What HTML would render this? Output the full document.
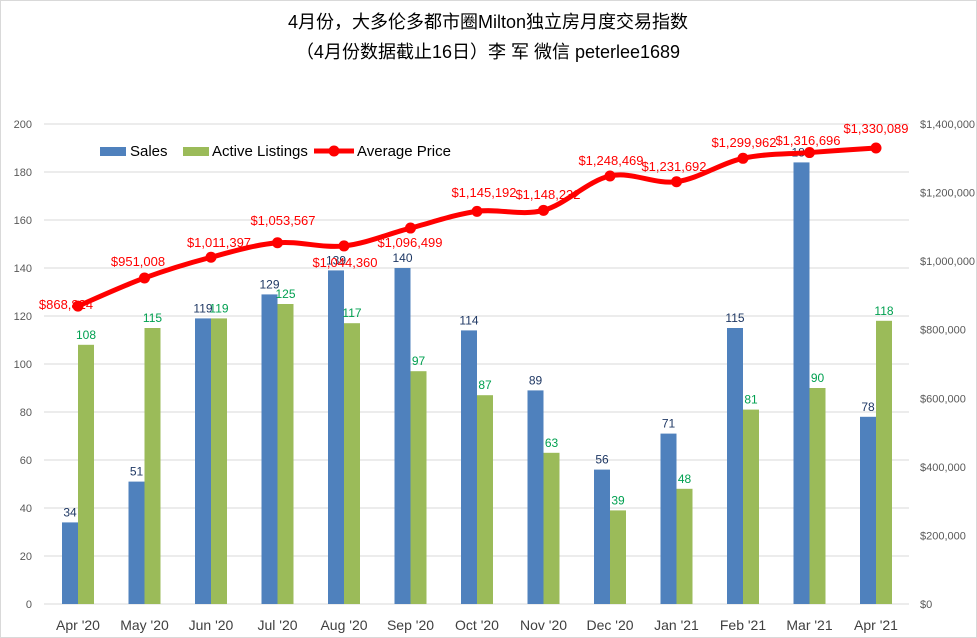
<!DOCTYPE html>
<html><head><meta charset="utf-8"><style>
body{margin:0;background:#fff}
svg{display:block;font-family:"Liberation Sans","Noto Sans CJK SC",sans-serif}
</style></head><body>
<svg id="c" width="977" height="638" viewBox="0 0 977 638" xmlns="http://www.w3.org/2000/svg">
<rect x="0.5" y="0.5" width="976" height="637" fill="#fff" stroke="#d9d9d9"/>
<text x="488" y="28" text-anchor="middle" font-size="18" fill="#000">4月份，大多伦多都市圈Milton独立房月度交易指数</text>
<text x="488" y="58" text-anchor="middle" font-size="18" fill="#000">（4月份数据截止16日）李 军  微信  peterlee1689</text>
<g id="g"></g>
</svg>
<script>
var g=document.getElementById('g'),h='';
var base=604,top0=124;
for(var i=0;i<=10;i++){var y=base-i*48;
h+='<line x1="44" x2="909" y1="'+y+'" y2="'+y+'" stroke="#d9d9d9" stroke-width="1"/>';
h+='<text x="32" y="'+(y+4)+'" text-anchor="end" font-size="11" fill="#595959">'+(i*20)+'</text>';
if(i%2==0||true){}
}
for(var i=0;i<=7;i++){var y=base-i*68.57;var v=i*200000;
var s=v==0?'$0':'$'+v.toLocaleString('en-US');
h+='<text x="920" y="'+(y+4)+'" font-size="11" fill="#595959">'+s+'</text>';}
var cats=["Apr '20","May '20","Jun '20","Jul '20","Aug '20","Sep '20","Oct '20","Nov '20","Dec '20","Jan '21","Feb '21","Mar '21","Apr '21"];
var sales=[34,51,119,129,139,140,114,89,56,71,115,184,78];
var act=[108,115,119,125,117,97,87,63,39,48,81,90,118];
var pr=[868824,951008,1011397,1053567,1044360,1096499,1145192,1148232,1248469,1231692,1299962,1316696,1330089];
var lp=[[66,309],[138,266],[219,247],[283,225],[345,267],[410,247],[484,197],[548,199],[611,165],[674,171],[744,147],[808,145],[876,133]];
var pts=[];
for(var i=0;i<13;i++){var cx=78+66.5*i;
var sy=base-sales[i]*2.4, ay=base-act[i]*2.4;
h+='<rect x="'+(cx-16)+'" y="'+sy+'" width="16" height="'+(base-sy)+'" fill="#4f81bd"/>';
h+='<rect x="'+cx+'" y="'+ay+'" width="16" height="'+(base-ay)+'" fill="#9bbb59"/>';
h+='<text x="'+(cx-8)+'" y="'+(sy-6)+'" text-anchor="middle" font-size="12" fill="#1f3864">'+sales[i]+'</text>';
h+='<text x="'+(cx+8)+'" y="'+(ay-6)+'" text-anchor="middle" font-size="12" fill="#00a050">'+act[i]+'</text>';
h+='<text x="'+cx+'" y="630" text-anchor="middle" font-size="14" fill="#404040">'+cats[i]+'</text>';
pts.push([cx,base-pr[i]*480/1400000]);}
var d='M'+pts[0][0]+','+pts[0][1];
for(var i=0;i<12;i++){var p0=pts[Math.max(i-1,0)],p1=pts[i],p2=pts[i+1],p3=pts[Math.min(i+2,12)];
d+=' C'+(p1[0]+(p2[0]-p0[0])/6)+','+(p1[1]+(p2[1]-p0[1])/6)+' '+(p2[0]-(p3[0]-p1[0])/6)+','+(p2[1]-(p3[1]-p1[1])/6)+' '+p2[0]+','+p2[1];}
h+='<path d="'+d+'" fill="none" stroke="#ff0000" stroke-width="5" stroke-linejoin="round"/>';
for(var i=0;i<13;i++){h+='<circle cx="'+pts[i][0]+'" cy="'+pts[i][1]+'" r="5.5" fill="#ff0000"/>';
h+='<text x="'+lp[i][0]+'" y="'+lp[i][1]+'" text-anchor="middle" font-size="13" fill="#ff0000">$'+pr[i].toLocaleString('en-US')+'</text>';}
h+='<rect x="100" y="147" width="26" height="9" fill="#4f81bd"/><text x="130" y="156" font-size="15" fill="#000">Sales</text>';
h+='<rect x="183" y="147" width="26" height="9" fill="#9bbb59"/><text x="212" y="156" font-size="15" fill="#000">Active Listings</text>';
h+='<line x1="314" x2="354" y1="151" y2="151" stroke="#ff0000" stroke-width="5"/><circle cx="334" cy="151" r="5.5" fill="#ff0000"/><text x="357" y="156" font-size="15" fill="#000">Average Price</text>';
g.innerHTML=h;
</script>
</body></html>
